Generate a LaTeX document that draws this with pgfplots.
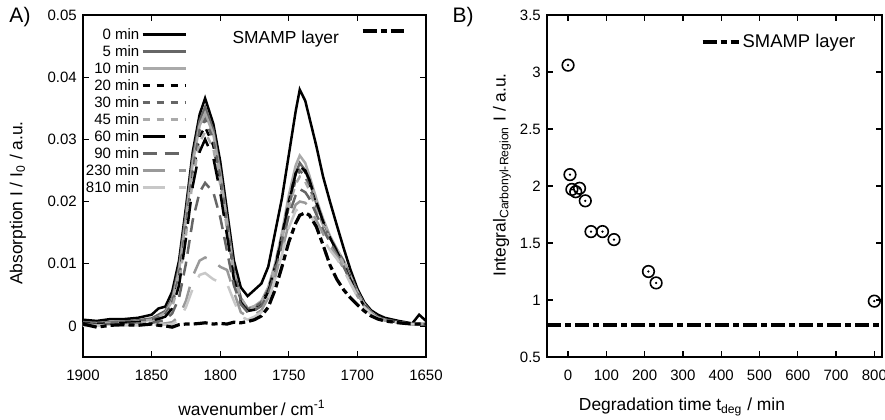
\documentclass[border=0pt]{standalone}
\usepackage{fontspec}
\setmainfont{Liberation Sans}
\usepackage{pgfplots}
\usepackage{pgfplotstable}
\pgfplotsset{compat=1.18}

\definecolor{dgray}{HTML}{666666}
\definecolor{mgray}{HTML}{999999}
\definecolor{lgray}{HTML}{AAAAAA}
\definecolor{vlgray}{HTML}{C8C8C8}

% spectra: a=0 b=5 c=10 d=20 e=30 f=45 g=60 h=90 i=230 j=810 min, k=SMAMP layer
\pgfplotstableread{
w     a      b      c      d      e      f      g      h      i      j      k
1900 .0010 .0006 .0004 .0003 .0005 .0002 .0004 .0003 .0001 .0000 .0003
1890 .0008 .0005 .0004 .0002 .0004 .0002 .0003 .0002 .0001 .0000 -.0002
1880 .0011 .0006 .0005 .0004 .0005 .0003 .0004 .0003 .0002 .0001 .0001
1870 .0011 .0007 .0005 .0004 .0006 .0003 .0005 .0003 .0002 .0001 .0002
1860 .0013 .0009 .0007 .0006 .0007 .0005 .0006 .0004 .0002 .0001 .0001
1850 .0018 .0012 .0010 .0009 .0010 .0007 .0008 .0005 .0003 .0002 .0003
1845 .0028 .0018 .0015 .0013 .0014 .0010 .0011 .0007 .0003 .0002 .0001
1840 .0031 .0024 .0021 .0018 .0019 .0015 .0015 .0010 .0004 .0002 .0000
1835 .0055 .0045 .0040 .0035 .0036 .0030 .0028 .0020 .0006 .0003 -.0002
1830 .0105 .0095 .0088 .0078 .0080 .0070 .0065 .0045 .0015 .0010 .0002
1825 .0190 .0180 .0170 .0155 .0160 .0145 .0140 .0100 .0040 .0030 .0003
1820 .0280 .0270 .0262 .0245 .0250 .0235 .0225 .0170 .0080 .0060 .0003
1815 .0340 .0330 .0322 .0305 .0315 .0295 .0280 .0215 .0105 .0082 .0004
1811 .0366 .0352 .0342 .0320 .0332 .0312 .0300 .0230 .0110 .0085 .0005
1805 .0325 .0315 .0308 .0290 .0300 .0285 .0270 .0215 .0105 .0075 .0003
1800 .0265 .0250 .0245 .0235 .0240 .0228 .0215 .0175 .0095 .0070 .0004
1795 .0185 .0170 .0168 .0160 .0162 .0155 .0145 .0120 .0090 .0068 .0003
1790 .0105 .0090 .0088 .0085 .0085 .0080 .0075 .0065 .0055 .0040 .0006
1785 .0062 .0045 .0045 .0042 .0043 .0040 .0038 .0035 .0022 .0015 .0005
1780 .0048 .0028 .0028 .0025 .0027 .0025 .0024 .0022 .0015 .0010 .0007
1775 .0058 .0030 .0032 .0028 .0030 .0028 .0026 .0025 .0018 .0015 .0010
1770 .0068 .0038 .0040 .0035 .0038 .0035 .0032 .0032 .0025 .0022 .0016
1765 .0095 .0060 .0062 .0058 .0058 .0055 .0055 .0052 .0045 .0042 .0030
1760 .0150 .0095 .0100 .0095 .0092 .0090 .0092 .0085 .0078 .0075 .0058
1755 .0205 .0145 .0150 .0145 .0140 .0138 .0142 .0130 .0120 .0115 .0095
1750 .0275 .0200 .0210 .0200 .0192 .0190 .0198 .0178 .0165 .0158 .0135
1745 .0345 .0245 .0258 .0245 .0235 .0228 .0245 .0210 .0195 .0185 .0165
1742 .0380 .0262 .0274 .0258 .0250 .0240 .0258 .0220 .0200 .0190 .0178
1738 .0362 .0250 .0262 .0248 .0240 .0232 .0250 .0215 .0198 .0188 .0182
1735 .0335 .0232 .0242 .0230 .0225 .0218 .0235 .0205 .0190 .0180 .0178
1730 .0290 .0198 .0205 .0195 .0192 .0188 .0200 .0180 .0170 .0162 .0160
1725 .0240 .0168 .0172 .0165 .0165 .0162 .0168 .0155 .0148 .0140 .0130
1720 .0200 .0142 .0145 .0140 .0142 .0140 .0142 .0135 .0128 .0122 .0098
1715 .0162 .0122 .0124 .0120 .0122 .0120 .0120 .0115 .0112 .0108 .0075
1710 .0125 .0104 .0105 .0102 .0104 .0100 .0098 .0095 .0092 .0090 .0058
1705 .0090 .0080 .0080 .0078 .0080 .0076 .0074 .0072 .0070 .0068 .0045
1700 .0060 .0055 .0055 .0053 .0055 .0052 .0050 .0050 .0048 .0047 .0034
1695 .0038 .0035 .0035 .0034 .0035 .0033 .0032 .0032 .0031 .0030 .0024
1690 .0025 .0022 .0022 .0021 .0022 .0021 .0020 .0020 .0020 .0019 .0016
1685 .0018 .0014 .0014 .0014 .0014 .0013 .0013 .0013 .0013 .0012 .0011
1680 .0013 .0010 .0010 .0010 .0010 .0009 .0009 .0009 .0009 .0009 .0008
1670 .0008 .0006 .0006 .0006 .0006 .0006 .0006 .0006 .0005 .0005 .0005
1660 .0004 .0003 .0003 .0003 .0003 .0003 .0003 .0003 .0003 .0003 .0003
1655 .0018 .0003 .0003 .0003 .0003 .0003 .0003 .0003 .0003 .0003 .0003
1650 .0008 .0003 .0003 .0003 .0003 .0003 .0003 .0003 .0003 .0003 .0003
}\spectra

\pgfplotstableread{
t   I
0   3.06
5   2.10
10  1.97
20  1.95
30  1.98
45  1.87
60  1.60
90  1.60
120 1.53
210 1.25
230 1.15
800 0.99
}\integrals

\newcommand\ticksize{\fontsize{7.5}{9}\selectfont}
\newcommand\labsize{\fontsize{8.7}{10.4}\selectfont}

\pgfplotsset{
  every axis/.append style={
    scale only axis,
    axis line style={line width=0.6pt},
    tick style={line width=0.6pt, black},
    major tick length=3pt,
    tick pos=both,
    scaled ticks=false,
    tick label style={font=\ticksize},
    xticklabel style={yshift=-3.5pt},
    /pgf/number format/assume math mode=true,
    /pgf/number format/1000 sep={},
  },
  curve/.style={line width=1.25pt, no marks},
  smamp/.style={line width=1.6pt, no marks, black, dash pattern=on 7pt off 2pt on 3pt off 2pt},
  legend image code/.code={\draw[mark repeat=2,mark phase=2] plot coordinates {(0cm,0cm) (0.38cm,0cm) (0.76cm,0cm)};},
}

\begin{document}
\labsize
\begin{tikzpicture}
\useasboundingbox (0pt,0pt) rectangle (442.5pt,209.5pt);

% panel A
\begin{axis}[
  at={(41.5pt,31pt)}, anchor=south west,
  width=171.5pt, height=171pt,
  x dir=reverse, xmin=1650, xmax=1900,
  ymin=-0.005, ymax=0.05,
  xtick={1650,1700,...,1900},
  ytick={0,0.01,0.02,0.03,0.04,0.05},
  yticklabels={0,0.01,0.02,0.03,0.04,0.05},
  legend plot pos=right,
  legend cell align=right,
  legend style={draw=none, fill=none, at={(0.322,0.979)}, anchor=north east,
    nodes={inner sep=1pt, text height=5.6pt, text depth=0.3pt}, row sep=0.6pt,
    font=\ticksize},
]
\addplot[curve, black] table[x=w, y=a] {\spectra}; \addlegendentry{0 min}
\addplot[curve, dgray] table[x=w, y=b] {\spectra}; \addlegendentry{5 min}
\addplot[curve, lgray] table[x=w, y=c] {\spectra}; \addlegendentry{10 min}
\addplot[curve, black, dash pattern=on 3.5pt off 3.5pt] table[x=w, y=d] {\spectra}; \addlegendentry{20 min}
\addplot[curve, dgray, dash pattern=on 3.5pt off 3.5pt] table[x=w, y=e] {\spectra}; \addlegendentry{30 min}
\addplot[curve, lgray, dash pattern=on 3.5pt off 3.5pt] table[x=w, y=f] {\spectra}; \addlegendentry{45 min}
\addplot[curve, black, dash pattern=on 11pt off 7pt] table[x=w, y=g] {\spectra}; \addlegendentry{60 min}
\addplot[curve, dgray, dash pattern=on 7pt off 4pt] table[x=w, y=h] {\spectra}; \addlegendentry{90 min}
\addplot[curve, mgray, dash pattern=on 11pt off 7pt] table[x=w, y=i] {\spectra}; \addlegendentry{230 min}
\addplot[curve, vlgray, dash pattern=on 11pt off 7pt] table[x=w, y=j] {\spectra}; \addlegendentry{810 min}
\end{axis}

% SMAMP layer in panel A, with its own legend
\begin{axis}[
  at={(41.5pt,31pt)}, anchor=south west,
  width=171.5pt, height=171pt,
  x dir=reverse, xmin=1650, xmax=1900,
  ymin=-0.005, ymax=0.05,
  hide axis,
  legend plot pos=right,
  legend image code/.code={\draw plot coordinates {(0pt,4pt) (20.5pt,4pt)};},
  legend style={draw=none, fill=none, at={(0.958,0.93)}, anchor=east,
    nodes={inner sep=1pt}, font=\labsize},
]
\addplot[smamp] table[x=w, y=k] {\spectra}; \addlegendentry{SMAMP layer\kern10pt}
\end{axis}

% panel B
\begin{axis}[
  at={(273.5pt,31pt)}, anchor=south west,
  width=167.5pt, height=171pt,
  xmin=-55, xmax=820,
  ymin=0.5, ymax=3.5,
  xtick={0,100,...,800},
  ytick={0.5,1,1.5,2,2.5,3,3.5},
  legend style={draw=none, fill=none, at={(0.945,0.921)}, anchor=east,
    nodes={inner sep=1pt}, font=\fontsize{9.2}{11}\selectfont},
  legend image code/.code={\draw plot coordinates {(0pt,0pt) (18pt,0pt)};},
]
\addplot[smamp, line width=2pt] coordinates {(-55,0.78) (820,0.78)}; \addlegendentry{SMAMP layer}
\addplot[only marks, mark=o, mark size=2.9pt, mark options={line width=0.8pt, black}] table[x=t, y=I] {\integrals};
\addplot[only marks, mark=*, mark size=0.35pt, black, forget plot] table[x=t, y=I] {\integrals};
\end{axis}

\node[font=\fontsize{10.5}{12}\selectfont] at (10pt,201pt) {A)};
\node[font=\fontsize{10.5}{12}\selectfont] at (231.5pt,201pt) {B)};
\node[rotate=90] at (9pt,108pt) {Absorption I / I\textsubscript{0} / a.u.};
\node at (126pt,5.5pt) {wavenumber\,/ cm\textsuperscript{-1}};
\node[rotate=90] at (251pt,122pt) {Integral\textsubscript{Carbonyl-Region} I / a.u.};
\node at (341pt,6pt) {Degradation time t\textsubscript{deg} / min};
\end{tikzpicture}
\end{document}
